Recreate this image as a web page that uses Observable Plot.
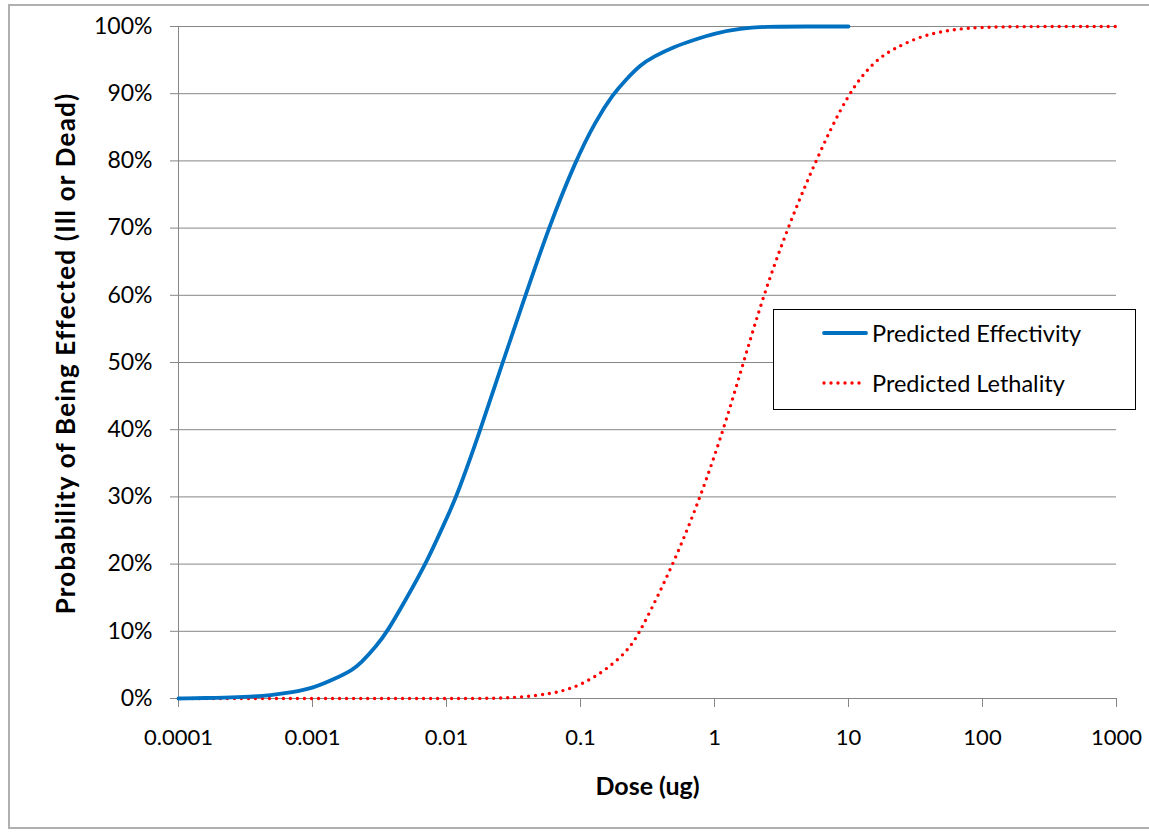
<!DOCTYPE html>
<html>
<head>
<meta charset="utf-8">
<script src="https://cdn.jsdelivr.net/npm/d3@7"></script>
<script src="https://cdn.jsdelivr.net/npm/@observablehq/plot@0.6"></script>
<style>
  html, body { margin: 0; padding: 0; background: #fff; }
  #wrap { position: relative; width: 1149px; height: 833px; overflow: hidden; font-family: Lato, "Open Sans", sans-serif; }
  #border { position: absolute; left: 8px; top: 4px; width: 1150px; height: 825px; border: 2px solid #b0b0b0; box-sizing: border-box; pointer-events: none; }
  #chart { position: absolute; left: 0; top: 0; }
  #legend { position: absolute; left: 773px; top: 309px; width: 363px; height: 101px; box-sizing: border-box; border: 1.5px solid #000; background: #fff; font-size: 23.5px; color: #000; }
  .row { position: absolute; left: 48px; height: 30px; display: flex; align-items: center; }
  .row svg { margin-right: 4px; }
</style>
</head>
<body>
<div id="wrap">
  <div id="chart"></div>
  <div id="legend"></div>
  <div id="border"></div>
</div>
<script>
// ---- data ----
const effDose = [0.0001, 0.0002, 0.0003, 0.0005, 0.0007, 0.001, 0.0015, 0.002, 0.00228, 0.003, 0.00363, 0.005, 0.00721, 0.01, 0.01189, 0.01795, 0.0262, 0.0389, 0.0577, 0.0918, 0.13, 0.176, 0.216, 0.28, 0.35, 0.5, 0.7, 1, 1.57, 2.35, 5, 10];
const effProb = [0, 0.001, 0.002, 0.005, 0.009, 0.015, 0.03, 0.043, 0.052, 0.078, 0.10, 0.148, 0.205, 0.268, 0.30, 0.40, 0.50, 0.60, 0.70, 0.80, 0.86, 0.90, 0.92, 0.943, 0.955, 0.97, 0.98, 0.99, 0.997, 1, 1, 1];

const letDose = [0.0001, 0.001, 0.01, 0.0286, 0.05, 0.071, 0.1, 0.149, 0.224, 0.281, 0.494, 0.787, 1.167, 1.645, 2.32, 3.51, 5.67, 9.84, 15.4, 21.7, 35.7, 60.8, 100, 200, 1000];
const letProb = [0, 0, 0, 0, 0.005, 0.01, 0.02, 0.04, 0.07, 0.10, 0.20, 0.30, 0.40, 0.50, 0.60, 0.70, 0.80, 0.90, 0.948, 0.967, 0.987, 0.996, 0.999, 1, 1];

const xTicks = [0.0001, 0.001, 0.01, 0.1, 1, 10, 100, 1000];
const xTickLabels = ["0.0001", "0.001", "0.01", "0.1", "1", "10", "100", "1000"];
const yTicks = [0, 0.1, 0.2, 0.3, 0.4, 0.5, 0.6, 0.7, 0.8, 0.9, 1];
const yTickLabels = ["0%", "10%", "20%", "30%", "40%", "50%", "60%", "70%", "80%", "90%", "100%"];

const seriesNames = ["Predicted Effectivity", "Predicted Lethality"];
const xTitle = "Dose (ug)";
const yTitle = "Probability of Being Effected (Ill or Dead)";

const eff = effDose.map((d, i) => ({dose: d, p: effProb[i]}));
const leth = letDose.map((d, i) => ({dose: d, p: letProb[i]}));

const gridColor = "#868686";
const blue = "#0070C0";
const red = "#FF0000";

const chart = Plot.plot({
  width: 1149,
  height: 833,
  marginLeft: 178,
  marginRight: 33,
  marginTop: 26,
  marginBottom: 135,
  style: {fontFamily: "Lato, 'Open Sans', sans-serif", fontSize: "22px", color: "#000", background: "transparent", overflow: "visible"},
  x: {type: "log", domain: [xTicks[0], xTicks[xTicks.length - 1]]},
  y: {domain: [yTicks[0], yTicks[yTicks.length - 1]]},
  marks: [
    Plot.gridY(yTicks, {stroke: gridColor, strokeOpacity: 1, strokeWidth: 1}),
    Plot.ruleX([xTicks[0]], {stroke: gridColor, strokeWidth: 1}),
    Plot.axisX(xTicks, {
      tickSize: 9, tickPadding: 22, stroke: gridColor, strokeOpacity: 1,
      tickFormat: (d) => xTickLabels[xTicks.indexOf(d)], label: null, fill: "#000", fontSize: 22
    }),
    Plot.axisY(yTicks, {
      tickSize: 8, tickPadding: 18, stroke: gridColor, strokeOpacity: 1,
      tickFormat: (d) => yTickLabels[yTicks.indexOf(d)], label: null, fill: "#000", fontSize: 23
    }),
    Plot.line(leth, {x: "dose", y: "p", stroke: red, strokeWidth: 3.4, strokeDasharray: "0,7", strokeLinecap: "round", curve: "basis"}),
    Plot.line(eff, {x: "dose", y: "p", stroke: blue, strokeWidth: 3.8, curve: "basis"}),
    Plot.text([xTitle], {frameAnchor: "bottom", dy: 96, fontWeight: "bold", fontSize: 25, fill: "#000"}),
    Plot.text([yTitle], {frameAnchor: "left", dx: -112, dy: -9, rotate: -90, textAnchor: "middle", lineAnchor: "middle", fontWeight: "bold", fontSize: 26, fill: "#000", style: "letter-spacing: 1.2px"})
  ]
});
// letter spacing for the vertical title
chart.querySelectorAll("text").forEach(t => { if (t.textContent === yTitle) t.style.letterSpacing = "1.2px"; });
document.getElementById("chart").appendChild(chart);

// legend
const legend = document.getElementById("legend");
const styles = [
  {stroke: blue, dash: null, width: 3.8, top: 8},
  {stroke: red, dash: "0,7", width: 3.4, top: 58}
];
seriesNames.forEach((name, i) => {
  const s = styles[i];
  const row = document.createElement("div");
  row.className = "row";
  row.style.top = s.top + "px";
  row.innerHTML = `<svg width="46" height="10"><line x1="2" y1="5" x2="44" y2="5" stroke="${s.stroke}" stroke-width="${s.width}" stroke-linecap="round" ${s.dash ? `stroke-dasharray="${s.dash}"` : ""}/></svg><span>${name}</span>`;
  legend.appendChild(row);
});
</script>
</body>
</html>
